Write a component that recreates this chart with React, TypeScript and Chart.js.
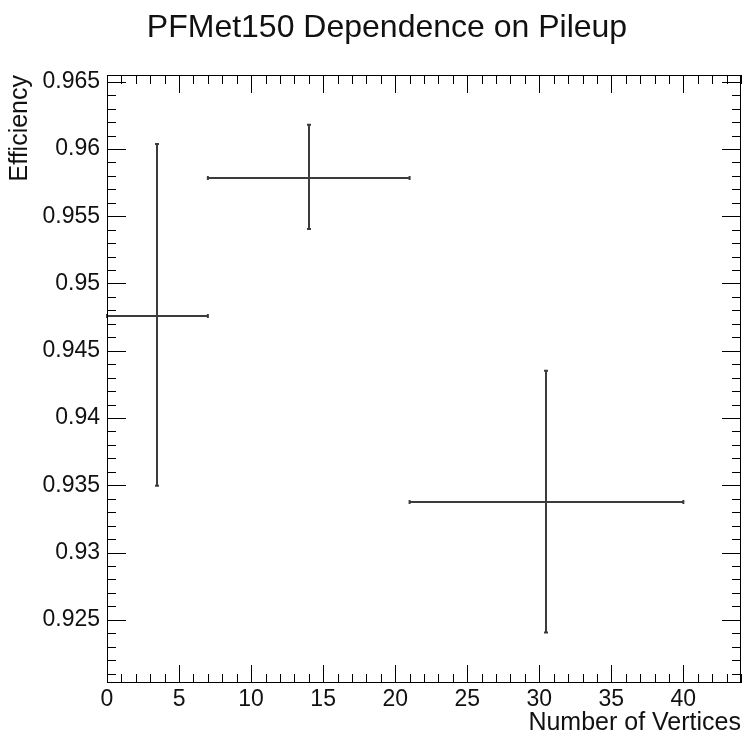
import React, { useEffect, useRef } from "react";
import { Chart, registerables } from "chart.js";

Chart.register(...registerables);

const FONT = '"Liberation Sans", Arial, Helvetica, sans-serif';

const chartTitle = "PFMet150 Dependence on Pileup";
const xAxisTitle = "Number of Vertices";
const yAxisTitle = "Efficiency";

// Bins of number of vertices
const binCenters = [3.5, 14, 30.5];
const binLow = [0, 7, 21];
const binHigh = [7, 21, 40];

// Efficiency values and asymmetric errors
const efficiency = [0.94755, 0.95784, 0.93375];
const errUp = [0.01282, 0.00397, 0.00976];
const errDown = [0.01259, 0.00379, 0.0097];

// Axes
const xRange = [0, 44];
const yRange = [0.9203, 0.9655];
const xTickValues = [0, 5, 10, 15, 20, 25, 30, 35, 40];
const xTickLabels = ["0", "5", "10", "15", "20", "25", "30", "35", "40"];
const yTickValues = [0.925, 0.93, 0.935, 0.94, 0.945, 0.95, 0.955, 0.96, 0.965];
const yTickLabels = ["0.925", "0.93", "0.935", "0.94", "0.945", "0.95", "0.955", "0.96", "0.965"];
const xMinorStep = 1;
const yMinorStep = 0.001;

const rootStylePlugin = {
  id: "rootStyle",
  afterDatasetsDraw(chart: any) {
    const { ctx, chartArea: a, scales } = chart;
    const xs = scales.x;
    const ys = scales.y;
    const snap = (v: number) => Math.round(v) + 0.5;
    ctx.save();

    // error bars
    ctx.strokeStyle = "#3c3c3c";
    ctx.lineWidth = 2;
    for (let i = 0; i < binCenters.length; i++) {
      const px = Math.round(xs.getPixelForValue(binCenters[i]));
      const py = Math.round(ys.getPixelForValue(efficiency[i]));
      const x0 = xs.getPixelForValue(binLow[i]);
      const x1 = xs.getPixelForValue(binHigh[i]);
      const yT = ys.getPixelForValue(efficiency[i] + errUp[i]);
      const yB = ys.getPixelForValue(efficiency[i] - errDown[i]);
      ctx.beginPath();
      ctx.moveTo(x0, py);
      ctx.lineTo(x1, py);
      ctx.moveTo(px, yT);
      ctx.lineTo(px, yB);
      // small end caps
      ctx.moveTo(x0, py - 2);
      ctx.lineTo(x0, py + 2);
      ctx.moveTo(x1, py - 2);
      ctx.lineTo(x1, py + 2);
      ctx.moveTo(px - 2, yT);
      ctx.lineTo(px + 2, yT);
      ctx.moveTo(px - 2, yB);
      ctx.lineTo(px + 2, yB);
      ctx.stroke();
    }

    // frame
    ctx.strokeStyle = "#000";
    ctx.lineWidth = 1;
    ctx.strokeRect(snap(a.left), snap(a.top), Math.round(a.right - a.left) - 1, Math.round(a.bottom - a.top) - 1);

    // x ticks (bottom and top, inward)
    ctx.beginPath();
    const xMajor = 18;
    const xMinor = 9;
    for (let v = xRange[0]; v <= xRange[1] + 1e-9; v += xMinorStep) {
      const isMajor = xTickValues.some((t) => Math.abs(t - v) < 1e-9);
      const len = isMajor ? xMajor : xMinor;
      const px = snap(xs.getPixelForValue(v));
      ctx.moveTo(px, a.bottom);
      ctx.lineTo(px, a.bottom - len);
      ctx.moveTo(px, a.top);
      ctx.lineTo(px, a.top + len);
    }
    // y ticks (left and right, inward)
    const yMajor = 19;
    const yMinor = 9;
    const startY = Math.ceil(yRange[0] / yMinorStep - 1e-6);
    const endY = Math.floor(yRange[1] / yMinorStep + 1e-6);
    for (let k = startY; k <= endY; k++) {
      const v = k * yMinorStep;
      const isMajor = yTickValues.some((t) => Math.abs(t - v) < 1e-7);
      const len = isMajor ? yMajor : yMinor;
      const py = snap(ys.getPixelForValue(v));
      ctx.moveTo(a.left, py);
      ctx.lineTo(a.left + len, py);
      ctx.moveTo(a.right, py);
      ctx.lineTo(a.right - len, py);
    }
    ctx.stroke();
    ctx.restore();
  },
  afterDraw(chart: any) {
    const { ctx } = chart;
    ctx.save();
    ctx.fillStyle = "#111";
    ctx.font = `32px ${FONT}`;
    ctx.textAlign = "center";
    ctx.textBaseline = "alphabetic";
    ctx.fillText(chartTitle, 387, 37);
    ctx.restore();
  },
};

export default function App() {
  const canvasRef = useRef<HTMLCanvasElement | null>(null);

  useEffect(() => {
    document.body.style.margin = "0";
    const canvas = canvasRef.current;
    if (!canvas) return;
    const chart = new Chart(canvas, {
      type: "scatter",
      data: {
        datasets: [
          {
            label: "Efficiency",
            data: binCenters.map((x, i) => ({ x, y: efficiency[i] })),
            pointRadius: 0,
            showLine: false,
            borderColor: "#3c3c3c",
            backgroundColor: "#3c3c3c",
          },
        ],
      },
      options: {
        animation: false,
        responsive: true,
        maintainAspectRatio: false,
        devicePixelRatio: 1,
        layout: { padding: { top: 75, right: 5, left: 0, bottom: 0 } },
        plugins: {
          legend: { display: false },
          tooltip: { enabled: false },
          title: { display: false },
        },
        scales: {
          x: {
            type: "linear",
            min: xRange[0],
            max: xRange[1],
            grid: { display: false, drawTicks: false },
            border: { display: false },
            ticks: {
              padding: 3,
              color: "#111",
              font: { family: FONT, size: 23 },
              autoSkip: false,
              maxRotation: 0,
              callback: (_v: any, i: number) => xTickLabels[i],
            },
            afterBuildTicks: (s: any) => {
              s.ticks = xTickValues.map((value) => ({ value }));
            },
            afterFit: (s: any) => {
              s.height = 58;
            },
            title: {
              display: true,
              text: xAxisTitle,
              align: "end",
              color: "#111",
              font: { family: FONT, size: 25 },
              padding: { top: 0, bottom: 3 },
            },
          },
          y: {
            type: "linear",
            min: yRange[0],
            max: yRange[1],
            grid: { display: false, drawTicks: false },
            border: { display: false },
            ticks: {
              padding: 7,
              color: "#111",
              font: { family: FONT, size: 23 },
              autoSkip: false,
              callback: (_v: any, i: number) => yTickLabels[i],
            },
            afterBuildTicks: (s: any) => {
              s.ticks = yTickValues.map((value) => ({ value }));
            },
            afterFit: (s: any) => {
              s.width = 107;
            },
            title: {
              display: true,
              text: yAxisTitle,
              align: "end",
              color: "#111",
              font: { family: FONT, size: 25 },
              padding: { top: 5, bottom: 0 },
            },
          },
        },
      },
      plugins: [rootStylePlugin],
    } as any);
    return () => chart.destroy();
  }, []);

  return (
    <div style={{ position: "relative", width: 746, height: 741, background: "#fff" }}>
      <canvas ref={canvasRef} />
    </div>
  );
}
